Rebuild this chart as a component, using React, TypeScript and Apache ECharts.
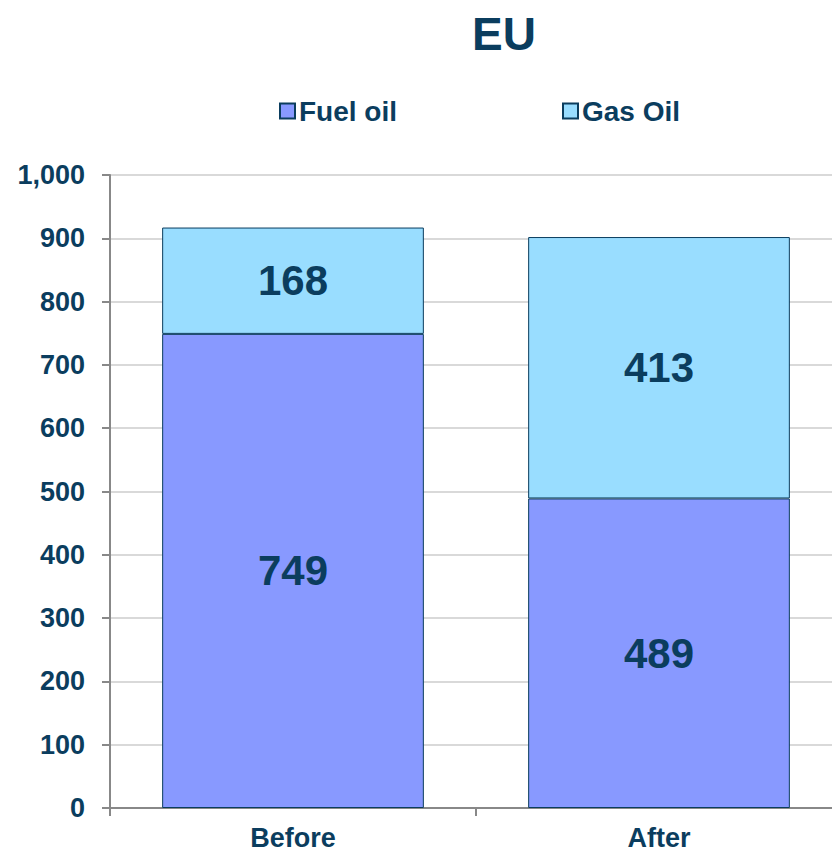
import React, { useEffect, useRef } from "react";
import * as echarts from "echarts";

const categories = ["Before", "After"];
const fuelOil = [749, 489];
const gasOil = [168, 413];
const seriesNames = ["Fuel oil", "Gas Oil"];

const TEXT = "#0B3D5E";
const FONT = "'Liberation Sans', Arial, sans-serif";

export default function App() {
  const ref = useRef<HTMLDivElement>(null);
  useEffect(() => {
    if (!ref.current) return;
    const chart = echarts.init(ref.current, null, { renderer: "svg" });
    const label = {
      show: true,
      position: "inside",
      color: TEXT,
      fontSize: 42,
      fontWeight: "bold",
      fontFamily: FONT,
    };
    chart.setOption({
      animation: false,
      title: {
        text: "EU",
        left: 499,
        top: 6,
        textAlign: "center",
        textStyle: { color: TEXT, fontSize: 46, fontWeight: "bold", fontFamily: FONT },
      },
      legend: {
        left: 279,
        top: 97,
        padding: 0,
        itemWidth: 15,
        itemHeight: 15,
        itemGap: 165,
        icon: "rect",
        textStyle: { color: TEXT, fontSize: 28, fontWeight: "bold", fontFamily: FONT, padding: [0, 0, 0, -1] },
        data: seriesNames,
      },
      grid: { left: 110, top: 175, right: -10, height: 633, containLabel: false, outerBoundsMode: "none" },
      xAxis: {
        type: "category",
        data: categories,
        axisLine: { lineStyle: { color: "#888888", width: 2 } },
        axisTick: { show: true, length: 8, lineStyle: { color: "#888888", width: 2 } },
        axisLabel: { color: TEXT, fontSize: 27, lineHeight: 28, fontWeight: "bold", fontFamily: FONT, margin: 16 },
      },
      yAxis: {
        type: "value",
        min: 0,
        max: 1000,
        interval: 100,
        axisLine: { show: true, lineStyle: { color: "#888888", width: 2 } },
        axisTick: { show: true, length: 8, lineStyle: { color: "#888888", width: 2 } },
        splitLine: { lineStyle: { color: "#D9D9D9", width: 2 } },
        axisLabel: {
          color: TEXT,
          fontSize: 27,
          fontWeight: "bold",
          fontFamily: FONT,
          margin: 25,
          formatter: (v: number) => v.toLocaleString("en-US"),
        },
      },
      series: [
        {
          name: seriesNames[0],
          type: "bar",
          stack: "total",
          data: fuelOil,
          barWidth: "71.5%",
          itemStyle: { color: "#8899FF", borderColor: "#0B3D5E", borderWidth: 1 },
          label,
        },
        {
          name: seriesNames[1],
          type: "bar",
          stack: "total",
          data: gasOil,
          barWidth: "71.5%",
          itemStyle: { color: "#99DDFF", borderColor: "#0B3D5E", borderWidth: 1 },
          label,
        },
      ],
    });
    return () => chart.dispose();
  }, []);
  return <div ref={ref} style={{ width: 832, height: 853, position: "absolute", left: 0, top: 0 }} />;
}
